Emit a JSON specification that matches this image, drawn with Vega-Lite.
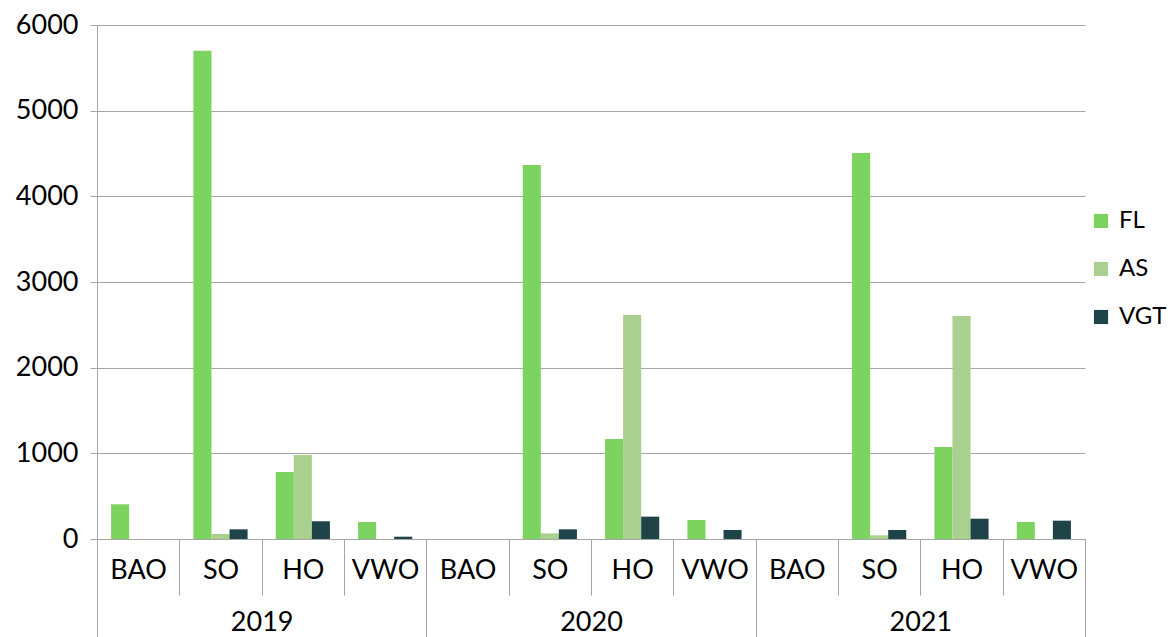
{
  "$schema": "https://vega.github.io/schema/vega-lite/v6.json",
  "width": 988,
  "height": 514,
  "autosize": "none",
  "padding": {"left": 97, "top": 25, "right": 83, "bottom": 98},
  "config": {
    "font": "Lato",
    "view": {"stroke": null},
    "axis": {"labelFont": "Lato", "labelColor": "#000000", "labelFontSize": 27, "gridColor": "#a6a6a6", "domainColor": "#a6a6a6", "tickColor": "#a6a6a6", "ticks": true}
  },
  "data": {"values": [
    {"year": "2019", "cat": "BAO", "key": "2019 BAO", "series": "FL", "value": 405},
    {"year": "2019", "cat": "SO", "key": "2019 SO", "series": "FL", "value": 5700},
    {"year": "2019", "cat": "SO", "key": "2019 SO", "series": "AS", "value": 58},
    {"year": "2019", "cat": "SO", "key": "2019 SO", "series": "VGT", "value": 113},
    {"year": "2019", "cat": "HO", "key": "2019 HO", "series": "FL", "value": 782},
    {"year": "2019", "cat": "HO", "key": "2019 HO", "series": "AS", "value": 980},
    {"year": "2019", "cat": "HO", "key": "2019 HO", "series": "VGT", "value": 207},
    {"year": "2019", "cat": "VWO", "key": "2019 VWO", "series": "FL", "value": 198},
    {"year": "2019", "cat": "VWO", "key": "2019 VWO", "series": "VGT", "value": 27},
    {"year": "2020", "cat": "SO", "key": "2020 SO", "series": "FL", "value": 4366},
    {"year": "2020", "cat": "SO", "key": "2020 SO", "series": "AS", "value": 66},
    {"year": "2020", "cat": "SO", "key": "2020 SO", "series": "VGT", "value": 113},
    {"year": "2020", "cat": "HO", "key": "2020 HO", "series": "FL", "value": 1167},
    {"year": "2020", "cat": "HO", "key": "2020 HO", "series": "AS", "value": 2615},
    {"year": "2020", "cat": "HO", "key": "2020 HO", "series": "VGT", "value": 261},
    {"year": "2020", "cat": "VWO", "key": "2020 VWO", "series": "FL", "value": 222},
    {"year": "2020", "cat": "VWO", "key": "2020 VWO", "series": "VGT", "value": 105},
    {"year": "2021", "cat": "SO", "key": "2021 SO", "series": "FL", "value": 4506},
    {"year": "2021", "cat": "SO", "key": "2021 SO", "series": "AS", "value": 43},
    {"year": "2021", "cat": "SO", "key": "2021 SO", "series": "VGT", "value": 105},
    {"year": "2021", "cat": "HO", "key": "2021 HO", "series": "FL", "value": 1074},
    {"year": "2021", "cat": "HO", "key": "2021 HO", "series": "AS", "value": 2603},
    {"year": "2021", "cat": "HO", "key": "2021 HO", "series": "VGT", "value": 237},
    {"year": "2021", "cat": "VWO", "key": "2021 VWO", "series": "FL", "value": 198},
    {"year": "2021", "cat": "VWO", "key": "2021 VWO", "series": "VGT", "value": 214}
  ]},
  "resolve": {"scale": {"x": "independent"}, "axis": {"x": "independent"}},
  "layer": [
    {
      "mark": {"type": "bar"},
      "encoding": {
        "x": {
          "field": "key", "type": "nominal",
          "scale": {"domain": ["2019 BAO","2019 SO","2019 HO","2019 VWO","2020 BAO","2020 SO","2020 HO","2020 VWO","2021 BAO","2021 SO","2021 HO","2021 VWO"], "paddingInner": 0, "paddingOuter": 0},
          "axis": {"orient": "bottom", "title": null, "labelAngle": 0, "labelExpr": "split(datum.label, ' ')[1]", "ticks": true, "tickBand": "extent", "tickSize": 56, "labelPadding": -38, "labelOverlap": false, "domain": true}
        },
        "xOffset": {"field": "series", "type": "nominal", "scale": {"domain": ["FL","AS","VGT"], "paddingInner": 0, "paddingOuter": 0.78}},
        "y": {
          "field": "value", "type": "quantitative",
          "scale": {"domain": [0, 6000]},
          "axis": {"title": null, "values": [0,1000,2000,3000,4000,5000,6000], "format": "d", "labelFontSize": 27, "tickSize": 7, "labelPadding": 12, "grid": true, "domain": true}
        },
        "color": {
          "field": "series", "type": "nominal",
          "scale": {"domain": ["FL","AS","VGT"], "range": ["#7dd35f","#a9d08e","#1e444a"]},
          "legend": {"title": null, "orient": "none", "legendX": 992, "legendY": 184, "symbolType": "square", "symbolSize": 200, "symbolStrokeWidth": 0, "labelFontSize": 24, "labelFont": "Lato", "labelColor": "#000000", "rowPadding": 24, "labelOffset": 6}
        }
      }
    },
    {
      "mark": {"type": "text", "text": ""},
      "encoding": {
        "x": {
          "field": "year", "type": "nominal",
          "scale": {"domain": ["2019","2020","2021"], "paddingInner": 0, "paddingOuter": 0},
          "axis": {"orient": "bottom", "title": null, "labelAngle": 0, "ticks": true, "tickBand": "extent", "tickSize": 98, "labelPadding": -28, "domain": false}
        }
      }
    }
  ]
}
